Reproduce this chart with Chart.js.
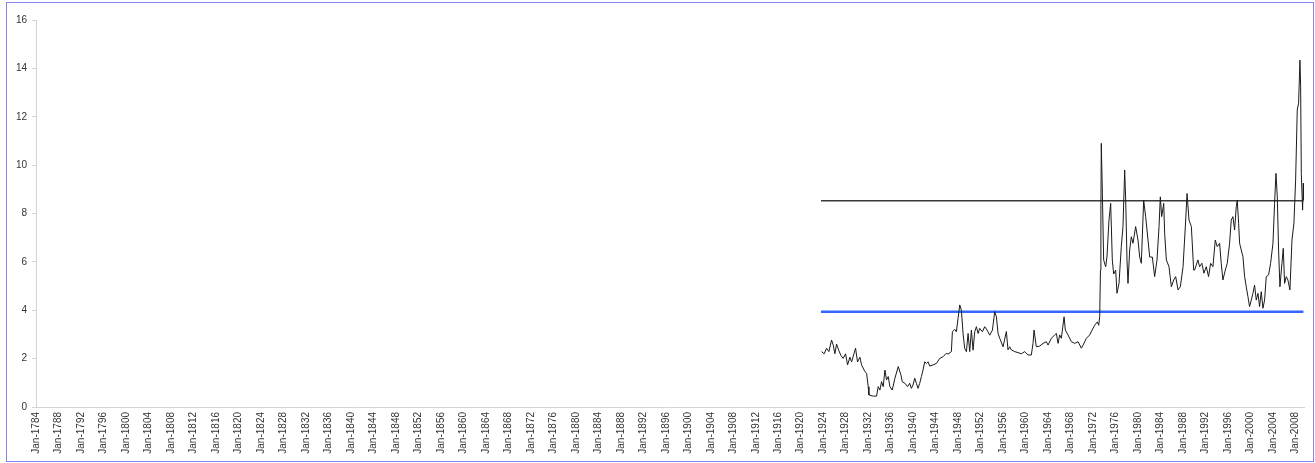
<!DOCTYPE html>
<html>
<head>
<meta charset="utf-8">
<script src="https://cdn.jsdelivr.net/npm/chart.js@4/dist/chart.umd.min.js"></script>
<style>
  body { margin: 0; background: #fff; }
  #wrap { position: relative; width: 1315px; height: 463px; }
  #frame { position: absolute; left: 6px; top: 2px; width: 1306px; height: 458px; border: 1px solid #8585f2; pointer-events: none; }
</style>
</head>
<body>
<div id="wrap">
  <canvas id="chart"></canvas>
  <div id="frame"></div>
</div>
<script>
// Series values (decimal year, value)
const years = [
  1923.70, 1924.17, 1924.59, 1925.00, 1925.48, 1925.78, 1926.07, 1926.37, 1926.78, 1927.14,
  1927.55, 1927.97, 1928.33, 1928.74, 1929.04, 1929.75, 1930.10, 1930.52, 1930.82, 1931.41,
  1931.71, 1932.00, 1932.12, 1932.89, 1933.48, 1933.78, 1934.08, 1934.37, 1934.67, 1934.97,
  1935.26, 1935.56, 1935.86, 1936.27, 1936.75, 1937.34, 1937.81, 1938.05, 1938.53, 1939.00,
  1939.38, 1939.68, 1939.97, 1940.27, 1940.57, 1940.86, 1941.16, 1941.46, 1941.75, 1942.05,
  1942.35, 1942.64, 1942.94, 1943.53, 1944.12, 1944.72, 1945.31, 1945.90, 1946.20, 1946.79,
  1946.97, 1947.39, 1947.68, 1947.98, 1948.28, 1948.57, 1948.87, 1949.16, 1949.46, 1949.76,
  1950.05, 1950.35, 1950.65, 1950.94, 1951.24, 1951.54, 1951.83, 1952.31, 1952.72, 1953.14,
  1953.61, 1954.09, 1954.50, 1954.80, 1955.09, 1955.39, 1955.98, 1956.57, 1956.86, 1957.16,
  1957.46, 1958.05, 1958.64, 1959.24, 1959.83, 1960.42, 1961.01, 1961.31, 1961.49, 1961.90,
  1962.50, 1963.09, 1963.68, 1963.98, 1964.57, 1965.17, 1965.46, 1965.76, 1966.05, 1966.35,
  1966.83, 1967.06, 1967.54, 1968.13, 1968.72, 1969.32, 1969.91, 1970.21, 1970.80, 1971.39,
  1971.81, 1972.28, 1972.76, 1972.99, 1973.17, 1973.30, 1973.38, 1973.45, 1973.63, 1973.87,
  1974.23, 1974.46, 1974.82, 1975.12, 1975.41, 1975.65, 1976.01, 1976.24, 1976.60, 1977.01,
  1977.31, 1977.61, 1977.79, 1978.02, 1978.20, 1978.50, 1978.79, 1979.09, 1979.56, 1979.98,
  1980.28, 1980.57, 1980.99, 1981.34, 1981.76, 1982.06, 1982.53, 1982.94, 1983.36, 1983.72,
  1983.95, 1984.19, 1984.55, 1984.72, 1985.02, 1985.49, 1985.91, 1986.32, 1986.68, 1987.10,
  1987.51, 1987.99, 1988.46, 1988.70, 1989.05, 1989.47, 1989.88, 1990.04, 1990.63, 1990.93,
  1991.34, 1991.70, 1992.12, 1992.53, 1992.89, 1993.30, 1993.72, 1994.07, 1994.49, 1994.78,
  1995.08, 1995.50, 1995.85, 1996.27, 1996.56, 1996.86, 1997.16, 1997.45, 1997.63, 1997.87,
  1998.05, 1998.34, 1998.64, 1998.94, 1999.23, 1999.53, 1999.82, 2000.12, 2000.42, 2000.71,
  2001.01, 2001.31, 2001.60, 2001.90, 2002.20, 2002.49, 2002.79, 2003.20, 2003.56, 2003.98,
  2004.27, 2004.51, 2004.75, 2004.98, 2005.22, 2005.58, 2005.81, 2006.05, 2006.35, 2006.64,
  2007.00, 2007.36, 2007.71, 2008.01, 2008.30, 2008.54, 2008.78, 2008.90, 2009.02, 2009.25,
  2009.37, 2009.49
];
const values = [
  2.29, 2.20, 2.43, 2.29, 2.77, 2.56, 2.20, 2.60, 2.33, 2.13,
  2.01, 2.20, 1.74, 2.06, 1.86, 2.43, 1.86, 2.06, 1.74, 1.46,
  1.40, 0.84, 0.50, 0.45, 0.45, 0.84, 0.70, 1.05, 0.84, 1.53,
  1.12, 1.26, 0.84, 0.70, 1.19, 1.67, 1.33, 1.05, 0.98, 0.84,
  0.98, 0.77, 0.91, 1.19, 0.98, 0.77, 0.98, 1.26, 1.53, 1.87,
  1.80, 1.87, 1.69, 1.74, 1.80, 2.01, 2.08, 2.22, 2.19, 2.29,
  3.11, 3.21, 3.11, 3.67, 4.22, 4.00, 3.04, 2.42, 2.29, 3.04,
  2.29, 3.18, 2.35, 3.11, 3.32, 3.04, 3.25, 3.11, 3.32, 3.18,
  2.97, 3.18, 3.94, 3.73, 3.04, 2.84, 2.49, 3.12, 2.36, 2.49,
  2.36, 2.29, 2.25, 2.20, 2.29, 2.15, 2.15, 2.63, 3.18, 2.49,
  2.52, 2.63, 2.70, 2.56, 2.84, 2.98, 3.04, 2.63, 2.98, 2.84,
  3.73, 3.18, 2.98, 2.70, 2.63, 2.70, 2.43, 2.56, 2.84, 2.98,
  3.18, 3.38, 3.52, 3.38, 3.73, 5.66, 8.14, 10.90, 8.97, 6.08,
  5.80, 6.20, 7.73, 8.42, 6.08, 5.50, 5.66, 4.70, 5.11, 6.63,
  7.46, 9.80, 8.55, 6.08, 5.11, 6.49, 7.04, 6.77, 7.46, 6.90,
  6.20, 5.94, 8.55, 7.87, 6.90, 6.20, 6.20, 5.39, 6.08, 7.46,
  8.69, 7.87, 8.42, 7.18, 6.08, 5.80, 4.97, 5.25, 5.39, 4.84,
  4.97, 5.80, 7.73, 8.83, 7.73, 7.46, 5.66, 5.66, 6.08, 5.80,
  5.94, 5.53, 5.80, 5.39, 5.94, 5.80, 6.90, 6.63, 6.77, 5.94,
  5.25, 5.66, 5.94, 6.77, 7.73, 7.87, 7.32, 8.28, 8.55, 7.60,
  6.77, 6.49, 6.22, 5.39, 4.97, 4.56, 4.15, 4.42, 4.70, 5.04,
  4.42, 4.70, 4.15, 4.77, 4.08, 4.42, 5.39, 5.46, 5.94, 6.77,
  8.42, 9.66, 8.69, 6.49, 4.97, 5.94, 6.56, 5.11, 5.39, 5.25,
  4.84, 6.90, 7.60, 9.38, 12.28, 12.56, 14.34, 13.26, 9.66, 8.14,
  9.25, 8.55
];

// Two horizontal reference levels
const upperLevel = 8.53;
const lowerLevel = 3.94;
const levelSpan = [1923.6, 2009.4];

// Axis ranges
const xFirst = 1784;
const xLast = 2009.5;
const xStep = 4;
const yMax = 16;
const yStep = 2;

const seriesPoints = years.map((yr, i) => ({ x: yr, y: values[i] }));
const levelPoints = (lvl) => levelSpan.map(yr => ({ x: yr, y: lvl }));

const ctx = document.getElementById('chart').getContext('2d');
new Chart(ctx, {
    type: 'line',
    data: {
        datasets: [
            {
                data: seriesPoints,
                borderColor: '#1a1a1a',
                borderWidth: 1,
                pointRadius: 0,
                tension: 0,
                order: 1
            },
            {
                data: levelPoints(upperLevel),
                borderColor: '#3a3a3a',
                borderWidth: 1.5,
                pointRadius: 0,
                order: 2
            },
            {
                data: levelPoints(lowerLevel),
                borderColor: '#3366ff',
                borderWidth: 2.5,
                pointRadius: 0,
                order: 3
            }
        ]
    },
    options: {
        responsive: true,
        maintainAspectRatio: false,
        animation: false,
        layout: { padding: { left: 0, right: 11, top: 20, bottom: 6 } },
        plugins: {
            legend: { display: false },
            tooltip: { enabled: false }
        },
        scales: {
            x: {
                type: 'linear',
                min: xFirst,
                max: xLast,
                afterFit: (scale) => { scale.height = 50; },
                grid: { drawOnChartArea: false, drawTicks: false },
                border: { color: '#d4d4d4', width: 1 },
                ticks: {
                    stepSize: xStep,
                    includeBounds: false,
                    autoSkip: false,
                    maxRotation: 90,
                    minRotation: 90,
                    padding: 5,
                    color: '#333',
                    font: { family: 'Liberation Sans', size: 10 },
                    callback: (v) => 'Jan-' + v
                }
            },
            y: {
                min: 0,
                max: yMax,
                afterFit: (scale) => { scale.width = 36; },
                grid: { drawOnChartArea: false, drawTicks: true, tickLength: 4, color: '#d4d4d4' },
                border: { color: '#d4d4d4', width: 1 },
                ticks: {
                    stepSize: yStep,
                    padding: 5,
                    color: '#333',
                    font: { family: 'Liberation Sans', size: 10 }
                }
            }
        }
    }
});
</script>
</body>
</html>
